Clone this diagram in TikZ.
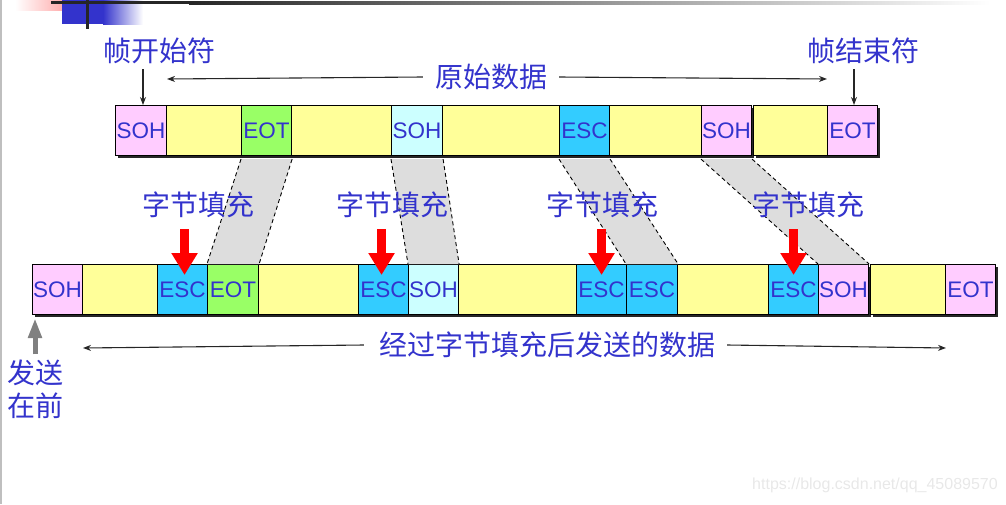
\documentclass[tikz,border=0pt]{standalone}
\usepackage{fontspec}
\setmainfont{Liberation Sans}
\newfontfamily\cjk{Noto Sans CJK SC}
\usepackage{tikz}
\usetikzlibrary{arrows.meta}

\definecolor{txtblue}{RGB}{51,51,204}
\definecolor{sohpink}{RGB}{255,204,255}
\definecolor{datayellow}{RGB}{255,255,153}
\definecolor{eotgreen}{RGB}{153,255,102}
\definecolor{sohcyan}{RGB}{204,255,255}
\definecolor{escblue}{RGB}{51,204,255}
\definecolor{bandgray}{RGB}{221,221,221}
\definecolor{salmon}{RGB}{255,150,150}

\begin{document}
\begin{tikzpicture}[x=1pt, y=-1pt,
  cell/.style={draw, line width=1.1pt, anchor=north west, minimum height=50pt, inner sep=0pt, font=\fontsize{22.5}{25}\selectfont, text=txtblue},
  lbl/.style={font=\cjk\fontsize{28}{33}\selectfont, text=txtblue, inner sep=0pt, align=center},
  ptr/.style={-{Stealth[length=8pt, width=6pt]}, line width=1.1pt, black!85},
  band/.style={fill=bandgray},
  seam/.style={dashed, line width=0.9pt, dash pattern=on 4pt off 3pt},
  redarr/.style={-{Triangle[width=25pt, length=22pt]}, line width=9pt, red},
  grayarr/.style={-{Triangle[width=13pt, length=20pt]}, line width=5pt, gray}
]
\useasboundingbox (0,0) rectangle (1006,504);

% slide decoration
\fill[black!25] (0,0) rectangle (2,504);
\shade[left color=white, right color=salmon] (15,0) rectangle (77,10);
\fill[txtblue] (62,0) rectangle (104,24);
\shade[left color=txtblue, right color=white] (103,0) rectangle (143,24);
\fill[black!85] (51,1) rectangle (190,4);
\shade[left color=black!85, right color=white] (189,1) rectangle (990,4);
\fill[black!85] (86,0) rectangle (89,29);

% shadows
\fill[black!85] (118,108) rectangle (754,158);
\fill[black!85] (756,108) rectangle (880,158);
\fill[black!85] (35,267) rectangle (871,317);
\fill[black!85] (873,267) rectangle (998,317);

% original frame
\node[cell, fill=sohpink,    minimum width=51pt]  (tS1) at (115,105) {SOH};
\node[cell, fill=datayellow, minimum width=75pt]  (tD1) at (166,105) {};
\node[cell, fill=eotgreen,   minimum width=50pt]  (tE1) at (241,105) {EOT};
\node[cell, fill=datayellow, minimum width=100pt] (tD2) at (291,105) {};
\node[cell, fill=sohcyan,    minimum width=51pt]  (tS2) at (391,105) {SOH};
\node[cell, fill=datayellow, minimum width=117pt] (tD3) at (442,105) {};
\node[cell, fill=escblue,    minimum width=50pt]  (tC1) at (559,105) {ESC};
\node[cell, fill=datayellow, minimum width=92pt]  (tD4) at (609,105) {};
\node[cell, fill=sohpink,    minimum width=50pt]  (tS3) at (701,105) {SOH};
\node[cell, fill=datayellow, minimum width=74pt]  (tD5) at (753,105) {};
\node[cell, fill=sohpink,    minimum width=50pt]  (tE2) at (827,105) {EOT};

% stuffed frame
\node[cell, fill=sohpink,    minimum width=50pt]  (bS1) at (32,264) {SOH};
\node[cell, fill=datayellow, minimum width=75pt]  (bD1) at (82,264) {};
\node[cell, fill=escblue,    minimum width=50pt]  (bC1) at (157,264) {ESC};
\node[cell, fill=eotgreen,   minimum width=51pt]  (bE1) at (207,264) {EOT};
\node[cell, fill=datayellow, minimum width=100pt] (bD2) at (258,264) {};
\node[cell, fill=escblue,    minimum width=50pt]  (bC2) at (358,264) {ESC};
\node[cell, fill=sohcyan,    minimum width=50pt]  (bS2) at (408,264) {SOH};
\node[cell, fill=datayellow, minimum width=118pt] (bD3) at (458,264) {};
\node[cell, fill=escblue,    minimum width=50pt]  (bC3) at (576,264) {ESC};
\node[cell, fill=escblue,    minimum width=51pt]  (bC4) at (626,264) {ESC};
\node[cell, fill=datayellow, minimum width=91pt]  (bD4) at (677,264) {};
\node[cell, fill=escblue,    minimum width=50pt]  (bC5) at (768,264) {ESC};
\node[cell, fill=sohpink,    minimum width=50pt]  (bS3) at (818,264) {SOH};
\node[cell, fill=datayellow, minimum width=75pt]  (bD5) at (870,264) {};
\node[cell, fill=sohpink,    minimum width=50pt]  (bE2) at (945,264) {EOT};

% moved bytes
\fill[band] ([yshift=-3pt]tE1.south west) -- ([yshift=-3pt]tE1.south east) -- (bE1.north east) -- (bE1.north west) -- cycle;
\draw[seam] ([yshift=-3pt]tE1.south west) -- (bE1.north west);
\draw[seam] ([yshift=-3pt]tE1.south east) -- (bE1.north east);
\fill[band] ([yshift=-3pt]tS2.south west) -- ([yshift=-3pt]tS2.south east) -- (bS2.north east) -- (bS2.north west) -- cycle;
\draw[seam] ([yshift=-3pt]tS2.south west) -- (bS2.north west);
\draw[seam] ([yshift=-3pt]tS2.south east) -- (bS2.north east);
\fill[band] ([yshift=-3pt]tC1.south west) -- ([yshift=-3pt]tC1.south east) -- (bC4.north east) -- (bC4.north west) -- cycle;
\draw[seam] ([yshift=-3pt]tC1.south west) -- (bC4.north west);
\draw[seam] ([yshift=-3pt]tC1.south east) -- (bC4.north east);
\fill[band] ([yshift=-3pt]tS3.south west) -- ([yshift=-3pt]tS3.south east) -- (bS3.north east) -- (bS3.north west) -- cycle;
\draw[seam] ([yshift=-3pt]tS3.south west) -- (bS3.north west);
\draw[seam] ([yshift=-3pt]tS3.south east) -- (bS3.north east);

% labels
\node[lbl] (start) at (159,51) {帧开始符};
\node[lbl] (end)   at (863,51) {帧结束符};
\node[lbl] (raw)   at (491,77) {原始数据};
\node[lbl] (sent)  at (547,345) {经过字节填充后发送的数据};
\node[lbl] (send)  at (36,389) {发送\\在前};
\node[lbl] (fill1) at (198,205) {字节填充};
\node[lbl] (fill2) at (392,205) {字节填充};
\node[lbl] (fill3) at (602,205) {字节填充};
\node[lbl] (fill4) at (808,205) {字节填充};

\coordinate (rawL)  at (167,79);
\coordinate (rawR)  at (827,79);
\coordinate (sentL) at (83,348);
\coordinate (sentR) at (946,348);
\coordinate (startp) at (143,69);
\coordinate (endp)   at (854,69);

\draw[ptr] (startp) -- (startp |- tS1.north);
\draw[ptr] (endp) -- (endp |- tE2.north);
\draw[ptr] ([xshift=-12pt]raw.west) -- (rawL);
\draw[ptr] ([xshift=12pt]raw.east) -- (rawR);
\draw[ptr] ([xshift=-15pt]sent.west) -- (sentL);
\draw[ptr] ([xshift=12pt]sent.east) -- (sentR);

% stuffing arrows
\draw[redarr] ([xshift=2pt, yshift=35pt]bC1.north) -- ([xshift=2pt, yshift=-11pt]bC1.north);
\draw[redarr] ([xshift=-2pt, yshift=35pt]bC2.north) -- ([xshift=-2pt, yshift=-11pt]bC2.north);
\draw[redarr] ([yshift=35pt]bC3.north) -- ([yshift=-11pt]bC3.north);
\draw[redarr] ([yshift=35pt]bC5.north) -- ([yshift=-11pt]bC5.north);

\draw[grayarr] ([xshift=-1pt, yshift=5pt]send.north) -- ([xshift=3pt, yshift=-3pt]bS1.south west);

\node[text=black!9, font=\fontsize{16}{19}\selectfont, inner sep=0pt] (mark) at (875,485) {https://blog.csdn.net/qq\_45089570};
\end{tikzpicture}
\end{document}
